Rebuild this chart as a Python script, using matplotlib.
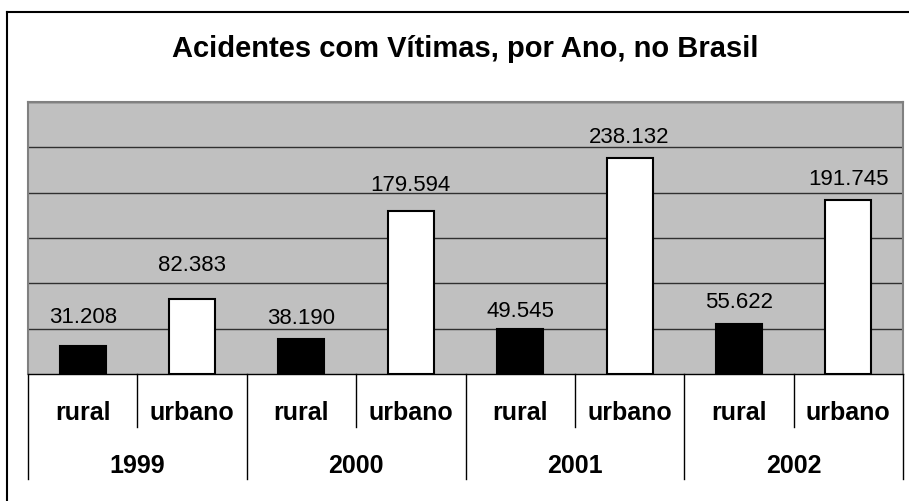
import matplotlib
matplotlib.use("Agg")
import matplotlib.pyplot as plt
from matplotlib.lines import Line2D
import matplotlib.transforms as mtransforms

plt.rcParams["font.family"] = ["Liberation Sans", "DejaVu Sans"]

years = ["1999", "2000", "2001", "2002"]
zones = ["rural", "urbano"]
values = [31208, 82383, 38190, 179594, 49545, 238132, 55622, 191745]
value_labels = ["31.208", "82.383", "38.190", "179.594",
                "49.545", "238.132", "55.622", "191.745"]
# gap (points) between bar top and label baseline, as placed in the original
label_gap = [17, 21, 11.5, 15, 9.5, 11.5, 12, 11.5]

W, H = 909, 502
fig = plt.figure(figsize=(W / 100, H / 100), dpi=100)
fig.patch.set_facecolor("white")

# plot area in pixels: x 28..903, y 103..375
ax = fig.add_axes([28 / W, (H - 375) / H, (903 - 28) / W, (375 - 103) / H])
ax.set_facecolor("#c0c0c0")

x = list(range(len(values)))
colors = ["black" if i % 2 == 0 else "white" for i in x]
ax.bar(x, values, width=0.42, color=colors, edgecolor="black", linewidth=1.5, zorder=3)

ax.set_xlim(-0.5, len(values) - 0.5)
ax.set_ylim(0, 300000)
ax.set_yticks(range(50000, 300001, 50000))
ax.yaxis.grid(True, color="#303030", linewidth=1, zorder=1)
ax.set_axisbelow(True)
ax.tick_params(left=False, bottom=False, labelleft=False, labelbottom=False)
for s in ["top", "left", "right"]:
    ax.spines[s].set_color("#808080")
    ax.spines[s].set_linewidth(1.5)
ax.spines["bottom"].set_color("black")
ax.spines["bottom"].set_linewidth(1)

for xi, v, lab, gap in zip(x, values, value_labels, label_gap):
    ax.annotate(lab, (xi, v), xytext=(0, gap), textcoords="offset points",
                ha="center", va="baseline", fontsize=16)

# multi-level category axis
trans = mtransforms.blended_transform_factory(ax.transData, ax.transAxes)
y_short = -53 / 272
y_long = -105 / 272
for i in range(len(values) + 1):
    xb = i - 0.5
    yb = y_long if i % 2 == 0 else y_short
    ax.add_line(Line2D([xb, xb], [0, yb], transform=trans, color="black",
                       linewidth=1, clip_on=False))
for i in x:
    ax.text(i, -38 / 272, zones[i % 2], transform=trans, ha="center", va="center",
            fontsize=18, fontweight="bold")
for j, yr in enumerate(years):
    ax.text(2 * j + 0.5, -91 / 272, yr, transform=trans, ha="center", va="center",
            fontsize=18, fontweight="bold")

fig.text(465 / W, 1 - 57 / H, "Acidentes com Vítimas, por Ano, no Brasil",
         ha="center", va="baseline", fontsize=21, fontweight="bold")

# outer chart frame (cut off at right and bottom)
fig.add_artist(Line2D([7.5 / W, 7.5 / W], [0, 1 - 12.5 / H], transform=fig.transFigure,
                      color="black", linewidth=1.5))
fig.add_artist(Line2D([7.5 / W, 1], [1 - 12.5 / H, 1 - 12.5 / H], transform=fig.transFigure,
                      color="black", linewidth=1.5))

fig.savefig("out.png", dpi=100)
